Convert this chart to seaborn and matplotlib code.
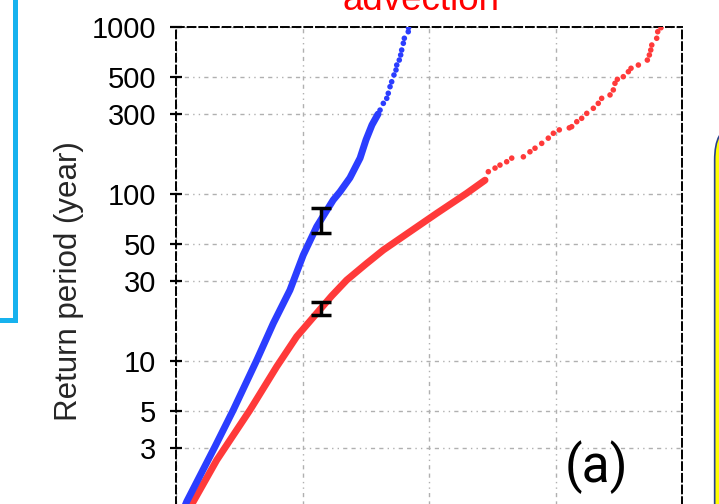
import numpy as np
import pandas as pd
import matplotlib
import matplotlib.pyplot as plt
import matplotlib.patches as patches
import seaborn as sns
plt.switch_backend('agg')

# dense part of each curve (x, return period in years)
blue_x = [0.000, 0.085, 0.308, 0.453, 0.638, 0.769, 0.901, 1.006, 1.112, 1.243,
          1.296, 1.375, 1.455, 1.502, 1.549, 1.597]
blue_y = [1.0, 1.44, 3.07, 5.09, 10.1, 16.8, 26.6, 43.1, 63.7, 92.1,
          103, 125, 164, 211, 259, 301]

red_x = [0.020, 0.137, 0.322, 0.585, 0.796, 0.954, 1.112, 1.230, 1.349, 1.500,
         1.639, 1.850, 2.061, 2.219, 2.298, 2.443]
red_y = [1.0, 1.44, 2.55, 5.09, 9.25, 14.0, 19.3, 24.5, 30.5, 38.0,
         46.2, 59.5, 76.6, 92.1, 101, 121]

# sparse tail, individual events
blue_dot_x = [1.613, 1.639, 1.666, 1.678, 1.692, 1.705, 1.723, 1.739, 1.745, 1.765,
              1.776, 1.784, 1.797, 1.805, 1.836, 1.838]
blue_dot_y = [318, 349, 374, 401, 439, 470, 516, 553, 592, 634,
              680, 728, 799, 856, 937, 990]

red_dot_x = [2.469, 2.522, 2.561, 2.614, 2.654, 2.746, 2.798, 2.838, 2.891, 2.943,
             2.983, 3.030, 3.109, 3.128, 3.168, 3.207, 3.247, 3.299, 3.338, 3.365,
             3.431, 3.457, 3.470, 3.489, 3.536, 3.576, 3.597, 3.655, 3.726, 3.742,
             3.753, 3.761, 3.800, 3.808, 3.834]
red_dot_y = [136, 143, 149, 156, 164, 167, 179, 188, 201, 216,
             231, 242, 249, 253, 271, 284, 304, 326, 349, 374,
             392, 420, 460, 486, 504, 540, 566, 592, 634, 680,
             728, 780, 856, 937, 990]

# uncertainty bars
err_x = [1.144, 1.144]
err_mid = [70.0, 20.7]
err_low = [58.4, 18.9]
err_high = [82.4, 22.7]

yticks = [3, 5, 10, 30, 50, 100, 300, 500, 1000]
xticks = [0, 1, 2, 3, 4]

BLUE = '#2b3dff'
RED = '#ff3a3a'

sns.set_style("white")
plt.rcParams['font.family'] = ['Liberation Sans', 'DejaVu Sans']

fig = plt.figure(figsize=(7.19, 5.04), dpi=100)
W, H = 719.0, 504.0
ax = fig.add_axes([176 / W, (504 - 528) / H, (682 - 176) / W, (528 - 27) / H])

dense = pd.concat([
    pd.DataFrame({'x': blue_x, 'y': blue_y, 'kind': 'blue'}),
    pd.DataFrame({'x': red_x, 'y': red_y, 'kind': 'red'}),
])
dots = pd.concat([
    pd.DataFrame({'x': blue_dot_x, 'y': blue_dot_y, 'kind': 'blue'}),
    pd.DataFrame({'x': red_dot_x, 'y': red_dot_y, 'kind': 'red'}),
])
pal = {'blue': BLUE, 'red': RED}

sns.lineplot(data=dense[dense.kind == 'red'], x='x', y='y', color=RED, lw=5,
             sort=False, estimator=None, ax=ax, zorder=3)
sns.lineplot(data=dense[dense.kind == 'blue'], x='x', y='y', color=BLUE, lw=5,
             sort=False, estimator=None, ax=ax, zorder=4)
sns.scatterplot(data=dots, x='x', y='y', hue='kind', palette=pal, s=16,
                edgecolor='none', legend=False, ax=ax, zorder=4)

ax.errorbar(err_x, err_mid,
            yerr=[np.array(err_mid) - np.array(err_low), np.array(err_high) - np.array(err_mid)],
            fmt='none', ecolor='black', elinewidth=2.5, capsize=7, capthick=2.5, zorder=6)

ax.set_yscale('log')
ax.set_ylim(1, 1000)
ax.set_xlim(0, 4)
ax.set_yticks(yticks)
ax.set_yticklabels([str(t) for t in yticks])
ax.yaxis.set_minor_locator(matplotlib.ticker.NullLocator())
ax.set_xticks(xticks)
ax.set_xticklabels([])
ax.set_xlabel('')
ax.set_ylabel('')

ax.grid(True, color='#b0b0b0', lw=1.0, linestyle=(0, (3, 3, 3, 3, 1, 3, 1, 3)))
ax.tick_params(axis='y', which='major', direction='inout', length=8.6, width=1.6,
               color='black', pad=10, labelsize=21, labelcolor='black', left=True)
ax.tick_params(axis='x', bottom=False)

for s in ax.spines.values():
    s.set_visible(True)
    s.set_color('black')
    s.set_linewidth(1.4)
    s.set_linestyle((0, (4, 2)))

fig.text(69 / W, 1 - 281 / H, 'Return period (year)', rotation=90,
         ha='center', va='center', fontsize=22.5)
fig.text(421 / W, 1 - 10 / H, 'advection', color='red', ha='center',
         va='baseline', fontsize=26.5)
fig.text(596 / W, 1 - 482 / H, '(a)', ha='center', va='baseline', fontsize=37,
         color='black', family=['Roboto', 'Liberation Sans'])

# neighbouring panel frames cut by the crop
fig.patches.append(patches.Rectangle((-20 / W, 1 - 320 / H), 35 / W, 400 / H,
                                     transform=fig.transFigure, fill=False,
                                     edgecolor='#17b2ee', lw=3.6))
for col, lw in [('#27408f', 6), ('#ffff00', 3.6)]:
    fig.patches.append(patches.FancyBboxPatch((718 / W, -60 / H), 60 / W, (1 - 130 / H) + 60 / H,
                                              boxstyle='round,pad=0,rounding_size=0.06',
                                              transform=fig.transFigure, fill=False,
                                              edgecolor=col, lw=lw))

plt.savefig('out.png', dpi=100)
